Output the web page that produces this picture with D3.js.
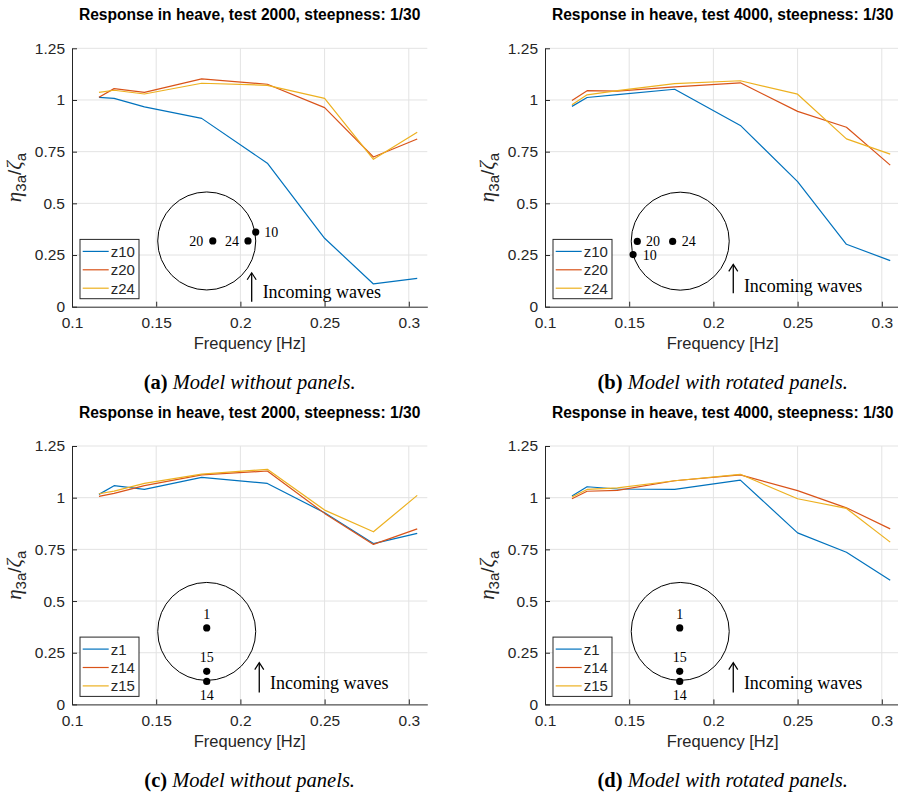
<!DOCTYPE html>
<html><head><meta charset="utf-8">
<script src="https://cdn.jsdelivr.net/npm/d3@7"></script>
<style>body{margin:0;background:#fff}</style>
</head><body><svg id="c" width="898" height="798"></svg>
<script>
// ---- data ----
const freq = [0.116, 0.125, 0.143, 0.177, 0.216, 0.25, 0.279, 0.305];
const xTicks = [0.1, 0.15, 0.2, 0.25, 0.3];
const yTicks = [0, 0.25, 0.5, 0.75, 1, 1.25];

const a_z10 = [1.013, 1.008, 0.967, 0.911, 0.694, 0.331, 0.110, 0.137];
const a_z20 = [1.013, 1.055, 1.037, 1.102, 1.076, 0.963, 0.724, 0.811];
const a_z24 = [1.037, 1.047, 1.029, 1.081, 1.071, 1.008, 0.713, 0.844];

const b_z10 = [0.969, 1.012, 1.026, 1.052, 0.877, 0.605, 0.302, 0.223];
const b_z20 = [0.998, 1.045, 1.043, 1.063, 1.083, 0.945, 0.868, 0.685];
const b_z24 = [0.977, 1.025, 1.045, 1.079, 1.093, 1.028, 0.812, 0.738];

const c_z1  = [1.016, 1.058, 1.040, 1.098, 1.069, 0.927, 0.778, 0.827];
const c_z14 = [1.006, 1.021, 1.058, 1.110, 1.129, 0.924, 0.774, 0.849];
const c_z15 = [1.019, 1.032, 1.069, 1.114, 1.137, 0.940, 0.835, 1.011];

const d_z1  = [1.008, 1.053, 1.042, 1.040, 1.085, 0.830, 0.736, 0.601];
const d_z14 = [0.995, 1.031, 1.035, 1.082, 1.110, 1.034, 0.951, 0.849];
const d_z15 = [1.003, 1.040, 1.047, 1.082, 1.113, 0.995, 0.948, 0.785];

const titles = ["Response in heave, test 2000, steepness: 1/30",
                "Response in heave, test 4000, steepness: 1/30",
                "Response in heave, test 2000, steepness: 1/30",
                "Response in heave, test 4000, steepness: 1/30"];
const captionLetters = ["(a)", "(b)", "(c)", "(d)"];
const captionTexts = ["Model without panels.", "Model with rotated panels.",
                      "Model without panels.", "Model with rotated panels."];
const colors = ["#0072BD", "#D95319", "#EDB120"];

// inset sensor points (data coords): [label, x, y, labelX, labelY, anchor]
const insetA = [["20", 0.1836, 0.318, 0.1780, 0.318, "end"],
                ["24", 0.2045, 0.318, 0.1992, 0.318, "end"],
                ["10", 0.2091, 0.361, 0.2142, 0.361, "start"]];
const insetB = [["20", 0.1548, 0.316, 0.1600, 0.316, "start"],
                ["24", 0.1758, 0.316, 0.1812, 0.316, "start"],
                ["10", 0.1523, 0.252, 0.1580, 0.252, "start"]];
const insetC = [["1", 0.180, 0.370, 0.180, 0.437, "middle"],
                ["15", 0.180, 0.160, 0.180, 0.227, "middle"],
                ["14", 0.180, 0.111, 0.180, 0.046, "middle"]];

// ---- layout ----
const panels = [
  {L: 72,  T: 48.3, names: ["z10","z20","z24"], vals: [a_z10,a_z20,a_z24], pts: insetA,
   circ: [0.180, 0.318], arrow: [0.2067, 0.024, 0.164], txt: [0.2132, 0.042], capY: 389},
  {L: 545, T: 48.3, names: ["z10","z20","z24"], vals: [b_z10,b_z20,b_z24], pts: insetB,
   circ: [0.1803, 0.317], arrow: [0.2118, 0.065, 0.205], txt: [0.2181, 0.073], capY: 389},
  {L: 72,  T: 446, names: ["z1","z14","z15"], vals: [c_z1,c_z14,c_z15], pts: insetC,
   circ: [0.180, 0.353], arrow: [0.2112, 0.057, 0.202], txt: [0.2176, 0.076], capY: 787},
  {L: 545, T: 446, names: ["z1","z14","z15"], vals: [d_z1,d_z14,d_z15], pts: insetC,
   circ: [0.1803, 0.353], arrow: [0.2118, 0.057, 0.202], txt: [0.2181, 0.076], capY: 787}
];
const W = 0.211 * 1684, H = 258.4;
const svg = d3.select("#c");
const sans = "'Liberation Sans', Arial, Helvetica, sans-serif";
const serif = "'Liberation Serif', 'Times New Roman', serif";
const axisCol = "#262626";

panels.forEach((p, i) => {
  const x = d3.scaleLinear().domain([0.1, 0.311]).range([p.L, p.L + W]);
  const y = d3.scaleLinear().domain([0, 1.25]).range([p.T + H, p.T]);
  const g = svg.append("g");

  // grid
  g.selectAll(".gx").data(xTicks.slice(1)).join("line")
    .attr("x1", d => x(d)).attr("x2", d => x(d)).attr("y1", y(0)).attr("y2", y(1.25))
    .attr("stroke", "#e3e3e3").attr("stroke-width", 1);
  g.selectAll(".gy").data(yTicks.slice(1)).join("line")
    .attr("x1", x(0.1)).attr("x2", x(0.311)).attr("y1", d => y(d)).attr("y2", d => y(d))
    .attr("stroke", "#e3e3e3").attr("stroke-width", 1);

  // axes
  const fmt = d3.format("~g");
  const ax = g.append("g").attr("transform", `translate(0,${y(0)})`)
    .call(d3.axisBottom(x).tickValues(xTicks).tickFormat(fmt).tickSizeInner(-5).tickSizeOuter(0).tickPadding(10.5));
  const ay = g.append("g").attr("transform", `translate(${x(0.1)},0)`)
    .call(d3.axisLeft(y).tickValues(yTicks).tickFormat(fmt).tickSizeInner(-5).tickSizeOuter(0).tickPadding(7));
  [ax, ay].forEach(a => {
    a.select(".domain").attr("stroke", axisCol);
    a.selectAll(".tick line").attr("stroke", axisCol);
    a.selectAll("text").attr("fill", axisCol).style("font-family", sans).style("font-size", "15.5px");
  });

  // lines
  const line = d3.line().x((d, j) => x(freq[j])).y(d => y(d));
  p.vals.forEach((v, k) => {
    g.append("path").datum(v).attr("d", line).attr("fill", "none")
      .attr("stroke", colors[k]).attr("stroke-width", 1.2).attr("stroke-linejoin", "round");
  });

  // title
  const cx = (x(0.1) + x(0.311)) / 2;
  g.append("text").attr("x", cx).attr("y", p.T - 28).attr("text-anchor", "middle")
    .style("font-family", sans).style("font-weight", "bold").style("font-size", "15.6px")
    .attr("fill", "#000").text(titles[i]);

  // x label
  g.append("text").attr("x", cx).attr("y", y(0) + 42.5).attr("text-anchor", "middle")
    .style("font-family", sans).style("font-size", "16.5px").attr("fill", axisCol).text("Frequency [Hz]");

  // y label
  const yl = g.append("text").attr("transform", `translate(${x(0.1) - 51},${(y(0) + y(1.25)) / 2}) rotate(-90)`)
    .attr("text-anchor", "middle").attr("fill", axisCol).style("font-size", "21px");
  yl.append("tspan").style("font-family", serif).style("font-style", "italic").text("η");
  yl.append("tspan").style("font-family", sans).attr("dy", 5).style("font-size", "15px").text("3a");
  yl.append("tspan").style("font-family", sans).attr("dy", -5).style("font-size", "19px").text("/");
  yl.append("tspan").style("font-family", serif).style("font-style", "italic").text("ζ");
  yl.append("tspan").style("font-family", sans).attr("dy", 5).style("font-size", "15px").text("a");

  // inset circle with sensors
  g.append("circle").attr("cx", x(p.circ[0])).attr("cy", y(p.circ[1])).attr("r", 49)
    .attr("fill", "none").attr("stroke", "#000").attr("stroke-width", 1);
  p.pts.forEach(q => {
    g.append("circle").attr("cx", x(q[1])).attr("cy", y(q[2])).attr("r", 3.6).attr("fill", "#000");
    g.append("text").attr("x", x(q[3])).attr("y", y(q[4])).attr("dy", "0.35em")
      .attr("text-anchor", q[5]).style("font-family", serif).style("font-size", "14px")
      .attr("fill", "#000").text(q[0]);
  });
  // arrow
  const axp = x(p.arrow[0]), yb = y(p.arrow[1]), yt = y(p.arrow[2]);
  g.append("line").attr("x1", axp).attr("x2", axp).attr("y1", yb).attr("y2", yt + 0.5)
    .attr("stroke", "#000").attr("stroke-width", 1.3);
  g.append("path").attr("d", `M${axp - 4.5},${yt + 7}L${axp},${yt}L${axp + 4.5},${yt + 7}`)
    .attr("fill", "none").attr("stroke", "#000").attr("stroke-width", 1.2);
  g.append("text").attr("x", x(p.txt[0])).attr("y", y(p.txt[1]))
    .style("font-family", serif).style("font-size", "18px").attr("fill", "#000").text("Incoming waves");

  // legend
  const lx = x(0.1) + 8, ly = y(0) - 8 - 59.3;
  const lg = g.append("g");
  lg.append("rect").attr("x", lx).attr("y", ly).attr("width", 59).attr("height", 59.3)
    .attr("fill", "#fff").attr("stroke", axisCol).attr("stroke-width", 1);
  p.names.forEach((n, k) => {
    const yy = ly + 12 + k * 18.4;
    lg.append("line").attr("x1", lx + 2.7).attr("x2", lx + 28.7).attr("y1", yy).attr("y2", yy)
      .attr("stroke", colors[k]).attr("stroke-width", 1.2);
    lg.append("text").attr("x", lx + 30.7).attr("y", yy).attr("dy", "0.36em")
      .style("font-family", sans).style("font-size", "15px").attr("fill", axisCol).text(n);
  });

  // caption
  const cap = g.append("text").attr("x", cx).attr("y", p.capY).attr("text-anchor", "middle")
    .style("font-family", serif).style("font-size", "20.5px").attr("fill", "#000");
  cap.append("tspan").style("font-weight", "bold").text(captionLetters[i] + " ");
  cap.append("tspan").style("font-style", "italic").text(captionTexts[i]);
});
</script></body></html>
